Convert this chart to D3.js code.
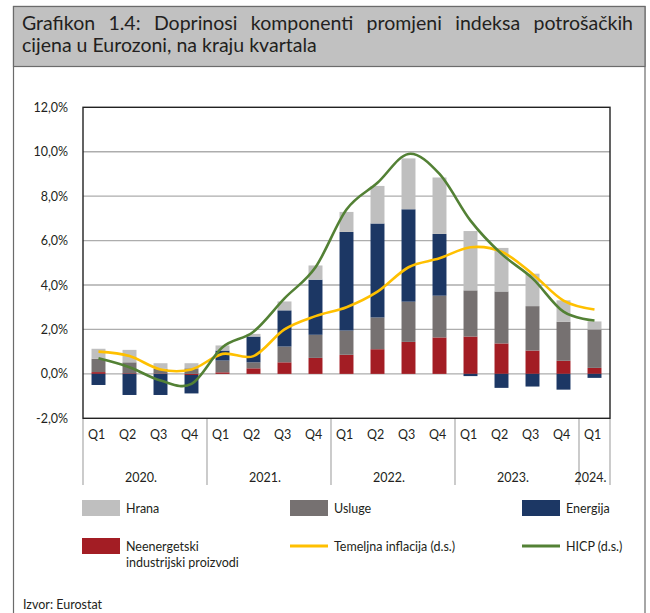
<!DOCTYPE html>
<html><head><meta charset="utf-8">
<script src="https://cdn.jsdelivr.net/npm/d3@7"></script>
<style>body{margin:0;background:#fff}svg{display:block}text{font-family:Lato,"Noto Sans",sans-serif;fill:#231f20}</style>
</head><body>
<svg id="c" width="650" height="613"></svg>
<script>
// ---- data ----
const categories = ["2020Q1","2020Q2","2020Q3","2020Q4","2021Q1","2021Q2","2021Q3","2021Q4","2022Q1","2022Q2","2022Q3","2022Q4","2023Q1","2023Q2","2023Q3","2023Q4","2024Q1"];
const quarterLabels = ["Q1","Q2","Q3","Q4","Q1","Q2","Q3","Q4","Q1","Q2","Q3","Q4","Q1","Q2","Q3","Q4","Q1"];
const yearLabels = ["2020.","2021.","2022.","2023.","2024."];
const yearOfCategory = [0,0,0,0,1,1,1,1,2,2,2,2,3,3,3,3,4];
const neenergetski = [0.08,0.03,0.02,-0.05,0.07,0.25,0.52,0.72,0.86,1.11,1.44,1.64,1.68,1.37,1.05,0.59,0.27];
const usluge      = [0.60,0.49,0.21,0.25,0.53,0.27,0.71,1.04,1.09,1.43,1.81,1.88,2.08,2.34,2.00,1.76,1.73];
const energija    = [-0.50,-0.95,-0.95,-0.83,0.45,1.16,1.63,2.48,4.44,4.23,4.16,2.78,-0.10,-0.63,-0.57,-0.71,-0.18];
const hrana       = [0.45,0.56,0.25,0.23,0.23,0.12,0.40,0.64,0.90,1.69,2.29,2.54,2.67,1.96,1.46,0.96,0.36];
const temeljna    = [1.0,0.8,0.2,0.2,0.9,0.8,2.0,2.6,3.0,3.7,4.8,5.2,5.7,5.5,4.5,3.3,2.9];
const hicp        = [0.7,0.3,-0.3,-0.45,1.2,1.9,3.4,4.8,7.4,8.6,9.9,9.0,6.9,5.4,4.3,2.8,2.4];
const yTicks = [-2,0,2,4,6,8,10,12];
const seriesNames = {neenergetski:"Neenergetski industrijski proizvodi", usluge:"Usluge", energija:"Energija", hrana:"Hrana", temeljna:"Temeljna inflacija (d.s.)", hicp:"HICP (d.s.)"};

const colors = {neenergetski:"#a31d24", usluge:"#767171", energija:"#1c3764", hrana:"#bfbfbf", temeljna:"#ffc000", hicp:"#538135"};

const svg = d3.select("#c");
// frame + title
svg.append("rect").attr("x",13.5).attr("y",6.5).attr("width",631.5).attr("height",640).attr("fill","none").attr("stroke","#6b6b6b").attr("stroke-width",1.2);
svg.append("rect").attr("x",13.5).attr("y",6.5).attr("width",631.5).attr("height",60).attr("fill","#c1c1c1").attr("stroke","#6b6b6b").attr("stroke-width",1.2);

const tg = svg.append("g").style("font-family","'Open Sans',Lato,sans-serif");
const line2 = tg.append("text").attr("x",22).attr("y",51.5).style("font-size","17px").text("cijena u Eurozoni, na kraju kvartala");
const titleFont = 17 * 295 / line2.node().getComputedTextLength();
tg.style("font-size", titleFont + "px");
line2.style("font-size", null);
const line1 = ["Grafikon","1.4:","Doprinosi","komponenti","promjeni","indeksa","potrošačkih"];
const words = line1.map(w => tg.append("text").attr("y",29.5).text(w));
const widths = words.map(t => t.node().getComputedTextLength());
const x0 = 22, x1 = 633;
const gap = (x1 - x0 - d3.sum(widths)) / (line1.length - 1);
let cx = x0;
words.forEach((t,i) => { t.attr("x", cx); cx += widths[i] + gap; });

// scales
const x = d3.scaleBand().domain(categories).range([83,610]).paddingInner(0.55).paddingOuter(0.275);
const y = d3.scaleLinear().domain([-2,12]).range([418.3,107.3]);

// gridlines
svg.append("g").selectAll("line").data(yTicks.filter(d => d > -2 && d < 12)).join("line")
  .attr("x1",83).attr("x2",610).attr("y1",d=>y(d)).attr("y2",d=>y(d))
  .attr("stroke","#adadad").attr("stroke-width",1.3);

// stacked bars
const rows = categories.map((c,i) => ({cat:c, neenergetski:neenergetski[i], usluge:usluge[i], energija:energija[i], hrana:hrana[i]}));
const keys = ["neenergetski","usluge","energija","hrana"];
const stacked = d3.stack().keys(keys).offset(d3.stackOffsetDiverging)(rows);
svg.append("g").selectAll("g").data(stacked).join("g").attr("fill", d => colors[d.key])
  .selectAll("rect").data(d => d).join("rect")
  .attr("x", d => x(d.data.cat)).attr("width", x.bandwidth())
  .attr("y", d => y(Math.max(d[0],d[1]))).attr("height", d => Math.abs(y(d[0]) - y(d[1])));

// lines
const line = d3.line().x((d,i) => x(categories[i]) + x.bandwidth()/2).y(d => y(d)).curve(d3.curveCardinal.tension(0));
svg.append("path").datum(temeljna).attr("d", line).attr("fill","none").attr("stroke",colors.temeljna).attr("stroke-width",2.6);
svg.append("path").datum(hicp).attr("d", line).attr("fill","none").attr("stroke",colors.hicp).attr("stroke-width",2.6);

// plot border
svg.append("rect").attr("x",83).attr("y",y(12)).attr("width",527).attr("height",y(-2)-y(12)).attr("fill","none").attr("stroke","#222").attr("stroke-width",1.4);

// y axis
const yAxis = d3.axisLeft(y).tickValues(yTicks).tickSize(0).tickPadding(15).tickFormat(d => d.toFixed(1).replace(".",",") + "%");
const ya = svg.append("g").attr("transform","translate(83,0)").call(yAxis);
ya.select(".domain").remove();
ya.selectAll("text").style("font-family","Lato").style("font-size","12.5px").attr("fill","#231f20");

// x axis: quarter labels
const xAxis = d3.axisBottom(x).tickSize(0).tickPadding(0).tickFormat((d,i) => quarterLabels[i]);
const xa = svg.append("g").attr("transform","translate(-2,430)").call(xAxis);
xa.select(".domain").remove();
xa.selectAll("text").style("font-family","Lato").style("font-size","12.5px").attr("fill","#231f20").attr("dy","0.71em");

// year separators and labels
const half = (x.step() - x.bandwidth())/2;
const bounds = yearLabels.map((yl,j) => {
  const idx = yearOfCategory.map((v,i)=>v===j?i:-1).filter(i=>i>=0);
  return [x(categories[idx[0]]) - half, x(categories[idx[idx.length-1]]) + x.bandwidth() + half];
});
const sepXs = [bounds[0][0]].concat(bounds.map(b => b[1]));
svg.append("g").selectAll("line").data(sepXs).join("line")
  .attr("x1",d=>d).attr("x2",d=>d).attr("y1",419).attr("y2",485)
  .attr("stroke","#b0b0b0").attr("stroke-width",1.3);
svg.append("g").selectAll("text").data(yearLabels).join("text")
  .attr("x",(d,j) => (bounds[j][0]+bounds[j][1])/2 - 4).attr("y",481.5).attr("text-anchor","middle")
  .style("font-size","12.5px").text(d=>d);

// legend
const legend = [
  {k:"hrana", type:"rect", x:82, y:500},
  {k:"usluge", type:"rect", x:290, y:500},
  {k:"energija", type:"rect", x:522, y:500},
  {k:"neenergetski", type:"rect", x:82, y:538},
  {k:"temeljna", type:"line", x:290, y:538},
  {k:"hicp", type:"line", x:522, y:538}
];
const lg = svg.append("g").style("font-size","12.5px");
legend.forEach(it => {
  if (it.type === "rect") lg.append("rect").attr("x",it.x).attr("y",it.y).attr("width",38).attr("height",16).attr("fill",colors[it.k]);
  else lg.append("line").attr("x1",it.x).attr("x2",it.x+38).attr("y1",it.y+8).attr("y2",it.y+8).attr("stroke",colors[it.k]).attr("stroke-width",3);
  const name = seriesNames[it.k];
  if (it.k === "neenergetski") {
    const t = lg.append("text").attr("x",it.x+44).attr("y",it.y+13);
    t.append("tspan").attr("x",it.x+44).text("Neenergetski");
    t.append("tspan").attr("x",it.x+44).attr("dy",15.5).text("industrijski proizvodi");
  } else {
    lg.append("text").attr("x",it.x+44).attr("y",it.y+13).text(name);
  }
});
svg.append("text").attr("x",23).attr("y",609).style("font-size","12.5px").text("Izvor: Eurostat");
</script>
</body></html>
